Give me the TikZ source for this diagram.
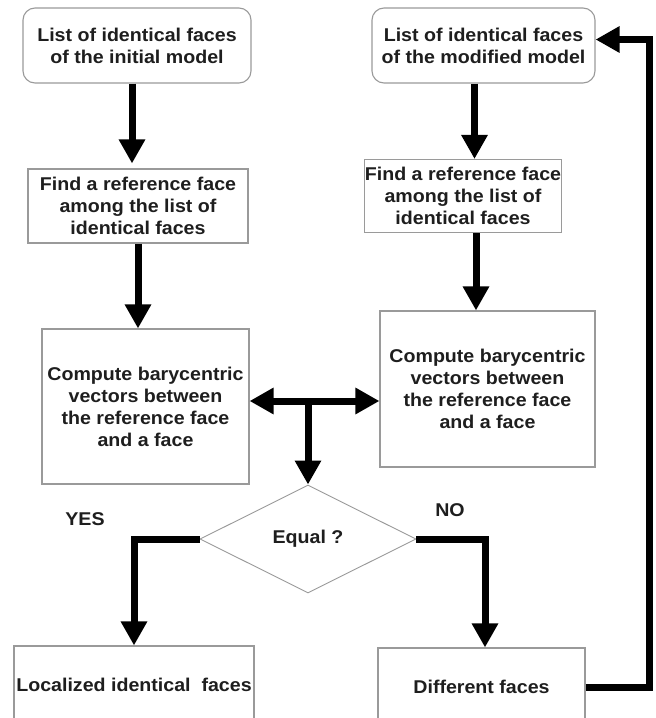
\documentclass[tikz,border=0pt]{standalone}
\usepackage{fontspec}
\setmainfont{Liberation Sans}[FakeStretch=1.06]
\usetikzlibrary{arrows.meta,shapes.geometric}
\definecolor{txt}{HTML}{1E1E1E}
\definecolor{frame}{HTML}{9A9A9A}
\begin{document}
\begin{tikzpicture}[x=1pt,y=-1pt,
  base/.style={text=txt, font=\bfseries\fontsize{18.5}{22}\selectfont, align=center, inner sep=0pt},
  box/.style={base, draw=frame, line width=1.1pt, fill=white},
  rbox/.style={box, rounded corners=12pt},
  dec/.style={base, draw=frame, line width=0.9pt, shape=diamond},
  lbl/.style={base},
  arr/.style={line width=7pt, line join=miter, -{Triangle[width=25pt,length=24pt]}}
]
\clip (0,0) rectangle (656,718);
\fill[white] (0,0) rectangle (656,718);

\node[rbox, minimum width=228pt, minimum height=75pt] (b1) at (137,45.5) {List of identical faces\\of the initial model};
\node[rbox, minimum width=223pt, minimum height=75pt] (b3) at (483.5,45.5) {List of identical faces\\of the modified model};
\node[box, minimum width=220pt, minimum height=74pt] (b2) at (138,206) {Find a reference face\\among the list of\\identical faces};
\node[box, minimum width=192pt, minimum height=73pt] (b4) at (463,196) {Find a reference face\\among the list of\\identical faces};
\node[box, minimum width=207pt, minimum height=155pt] (b5) at (145.5,406.5) {Compute barycentric\\vectors between\\the reference face\\and a face};
\node[box, minimum width=215pt, minimum height=156pt] (b6) at (487.5,389) {Compute barycentric\\vectors between\\the reference face\\and a face};
\node[dec, minimum width=216pt, minimum height=108pt] (d) at (308,539) {Equal ?};
\node[box, minimum width=240pt, minimum height=78pt] (b7) at (134,685) {Localized identical\ \ faces};
\node[box, minimum width=207pt, minimum height=78pt] (b8) at (481.5,687) {Different faces};
\node[lbl] (yes) at (85,519) {YES};
\node[lbl] (no) at (450,510) {NO};

\coordinate (j) at (308,401);
\coordinate (lp) at (649,687);

\draw[arr, shorten >=5pt] ([xshift=-5pt]b1.south) -- ([xshift=-5pt]b1.south |- b2.north);
\draw[arr] (b2.south) -- (b2.south |- b5.north);
\draw[arr] ([xshift=-9pt]b3.south) -- ([xshift=-9pt]b3.south |- b4.north);
\draw[arr] ([xshift=13pt]b4.south) -- ([xshift=13pt]b4.south |- b6.north);
\draw[arr] (j) -- (j -| b5.east);
\draw[arr] (j) -- (j -| b6.west);
\draw[arr] (j) -- (d.north);
\draw[arr] (d.west) -| (b7.north);
\draw[arr] (d.east) -| ([xshift=3.5pt]b8.north);
\draw[arr] (b8.east) -- (lp) |- ([yshift=6pt]b3.east);
\end{tikzpicture}
\end{document}
